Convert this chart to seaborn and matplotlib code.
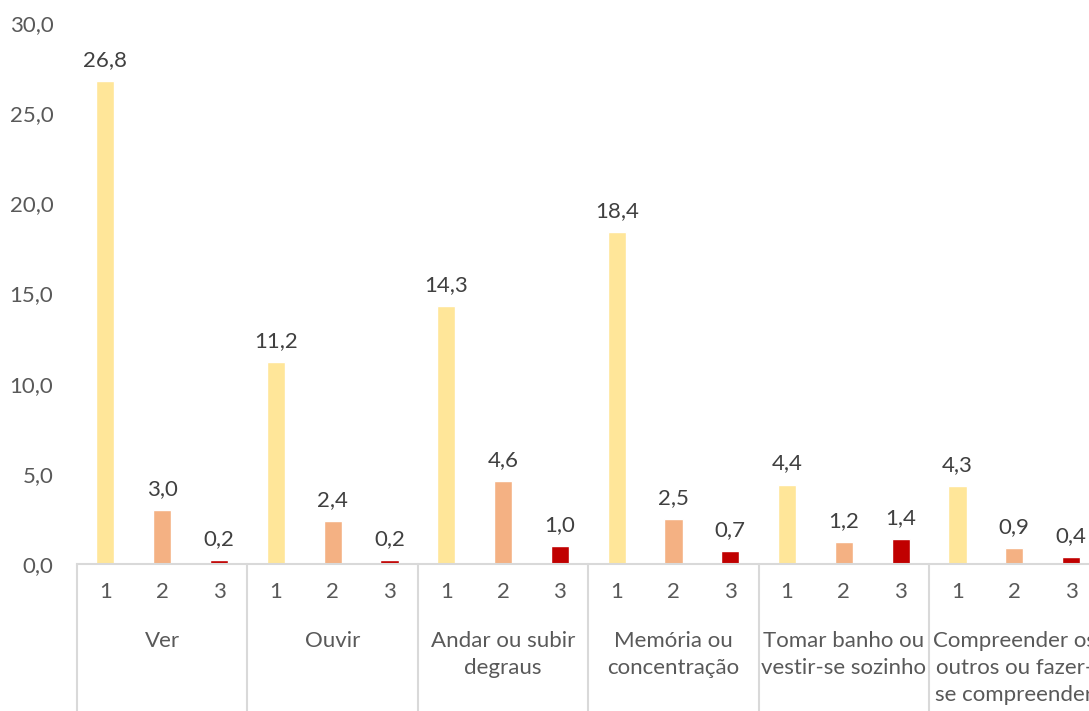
import pandas as pd
import numpy as np
import matplotlib
matplotlib.use('Agg')
import matplotlib.pyplot as plt
from matplotlib.ticker import FuncFormatter
import seaborn as sns

sns.set_style('white')
plt.rcParams['font.family'] = ['Lato', 'DejaVu Sans']
plt.rcParams['font.size'] = 16

# data
grupos = ['Ver', 'Ouvir', 'Andar ou subir\ndegraus', 'Memória ou\nconcentração',
          'Tomar banho ou\nvestir-se sozinho', 'Compreender os\noutros ou fazer-\nse compreender']
niveis = ['1', '2', '3']
nivel1 = [26.8, 11.2, 14.3, 18.4, 4.4, 4.3]
nivel2 = [3.0, 2.4, 4.6, 2.5, 1.2, 0.9]
nivel3 = [0.2, 0.2, 1.0, 0.7, 1.4, 0.4]
cores = ['#FFE699', '#F4B183', '#C00000']

rows = []
for i, g in enumerate(grupos):
    for nv, vals in zip(niveis, [nivel1, nivel2, nivel3]):
        rows.append({'slot': f'{i}-{nv}', 'grupo': g, 'nivel': nv, 'valor': vals[i]})
df = pd.DataFrame(rows)
ordem = list(df['slot'])

def virgula(v, pos=None):
    return f'{v:.1f}'.replace('.', ',')

fig = plt.figure(figsize=(10.89, 7.11), dpi=100)
ax = fig.add_axes([77 / 1089, (711 - 564) / 711, 1022.5 / 1089, 541 / 711])

sns.barplot(data=df, x='slot', y='valor', hue='nivel', order=ordem, hue_order=niveis,
            palette=cores, saturation=1, dodge=False, width=0.32, legend=False, ax=ax)

for c in ax.containers:
    ax.bar_label(c, fmt=virgula, padding=8, color='#404040', fontsize=16)

ax.set_ylim(0, 30)
ax.set_xlim(-0.5, len(ordem) - 0.5)
ax.set_yticks(np.arange(0, 31, 5))
ax.yaxis.set_major_formatter(FuncFormatter(virgula))
ax.set_xticks(range(len(ordem)))
ax.set_xticklabels(list(df['nivel']))
ax.tick_params(axis='x', length=0, pad=13, colors='#595959', labelsize=16)
ax.tick_params(axis='y', length=0, pad=17, colors='#595959', labelsize=16)
ax.set_xlabel('')
ax.set_ylabel('')

for s in ['left', 'top', 'right']:
    ax.spines[s].set_visible(False)
ax.spines['bottom'].set_color('#D9D9D9')
ax.spines['bottom'].set_linewidth(1.5)

# multi-level category axis: separators and group names
trans = ax.get_xaxis_transform()
for b in np.arange(-0.5, len(ordem), 3):
    ax.plot([b, b], [0, -0.3], transform=trans, color='#D9D9D9', lw=1.5, clip_on=False)
for i, g in enumerate(grupos):
    ax.text(i * 3 + 1, -0.124, g, transform=trans, ha='center', va='top',
            color='#595959', fontsize=16, linespacing=1.42, clip_on=False)

fig.savefig('out.png', dpi=100)
